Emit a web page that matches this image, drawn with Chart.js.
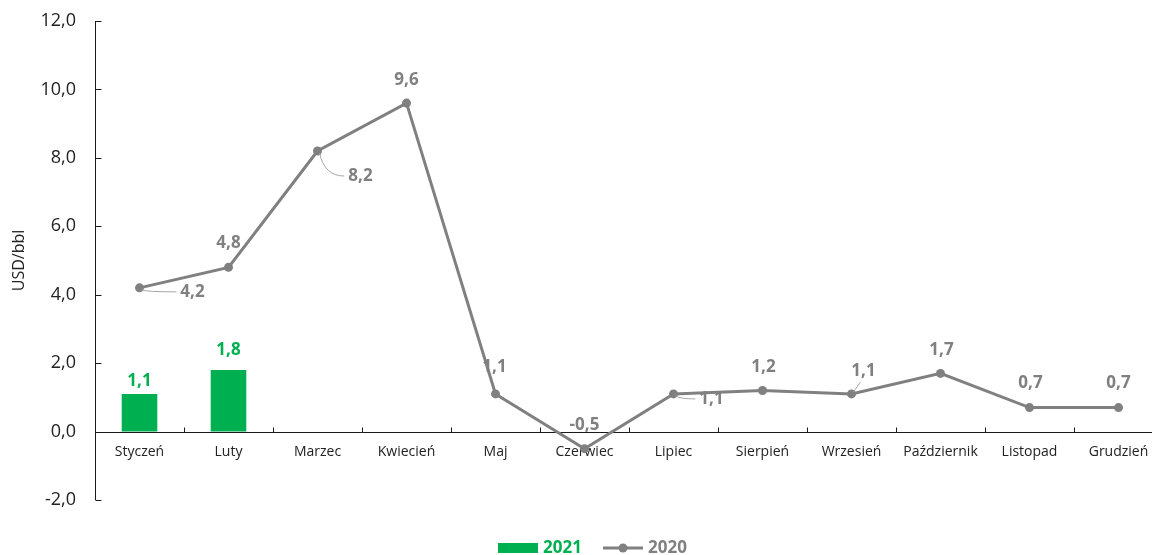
<!DOCTYPE html>
<html>
<head>
<meta charset="utf-8">
<script src="https://cdn.jsdelivr.net/npm/chart.js@4.4.1/dist/chart.umd.min.js"></script>
<style>
  html, body { margin: 0; padding: 0; background: #fff; overflow: hidden; }
  #wrap { width: 1170px; height: 555px; }
</style>
</head>
<body>
<div id="wrap"><canvas id="spreadChart" width="1170" height="555"></canvas></div>
<script>
// Miesiące i wartości (USD/bbl)
const months = ["Styczeń", "Luty", "Marzec", "Kwiecień", "Maj", "Czerwiec", "Lipiec", "Sierpień", "Wrzesień", "Październik", "Listopad", "Grudzień"];
const values2021 = [1.1, 1.8, null, null, null, null, null, null, null, null, null, null];
const values2020 = [4.2, 4.8, 8.2, 9.6, 1.1, -0.5, 1.1, 1.2, 1.1, 1.7, 0.7, 0.7];
const yMin = -2;
const yMax = 12;
const yStep = 2;

// Położenie etykiet danych względem punktu [dx, dy]
const barLabelOffsets = [[0, -13], [0, -20]];
const lineLabelOffsets = [[53, 4], [0, -24], [43, 25], [0, -23], [-1, -27], [0, -24], [38, 5], [1, -23], [12, -23], [1, -23], [1, -24], [0, -24]];
// Etykiety z linią odniesienia
const leaderRight = [0, 2, 6];
const leaderUp = [8];

const GREEN = "#00b050";
const GREY = "#808080";
const AXIS = "#1a1a1a";
const TEXT = "#222222";

const fmt = v => v.toFixed(1).replace(".", ",");

Chart.defaults.font.family = "'Open Sans', sans-serif";

// Osie rysowane ręcznie: znaczniki skierowane do środka wykresu
const axesPlugin = {
  id: "axesPlugin",
  beforeDatasetsDraw(chart) {
    const { ctx, chartArea, scales } = chart;
    const x = scales.x, y = scales.y;
    const y0 = Math.round(y.getPixelForValue(0)) + 0.5;
    const left = Math.round(chartArea.left) + 0.5;
    ctx.save();
    ctx.strokeStyle = AXIS;
    ctx.lineWidth = 1;
    ctx.beginPath();
    ctx.moveTo(left, chartArea.top);
    ctx.lineTo(left, chartArea.bottom);
    for (let v = yMin; v <= yMax; v += yStep) {
      const py = Math.round(y.getPixelForValue(v)) + 0.5;
      ctx.moveTo(left, py);
      ctx.lineTo(left + 6, py);
    }
    ctx.moveTo(left, y0);
    ctx.lineTo(chartArea.right, y0);
    for (let i = 1; i <= months.length; i++) {
      const px = Math.round(x.getPixelForValue(i - 0.5)) + 0.5;
      ctx.moveTo(px, y0);
      ctx.lineTo(px, y0 - 5);
    }
    ctx.stroke();
    ctx.restore();
  }
};

// Etykiety wartości nad słupkami i punktami
const valueLabels = {
  id: "valueLabels",
  afterDatasetsDraw(chart) {
    const { ctx } = chart;
    ctx.save();
    ctx.font = "bold 17px 'Open Sans', sans-serif";
    ctx.textAlign = "center";
    ctx.textBaseline = "middle";

    const bars = chart.getDatasetMeta(0).data;
    ctx.fillStyle = GREEN;
    values2021.forEach((v, i) => {
      if (v === null) return;
      const el = bars[i];
      const [dx, dy] = barLabelOffsets[i];
      ctx.fillText(fmt(v), el.x + dx, el.y + dy);
    });

    const pts = chart.getDatasetMeta(1).data;
    values2020.forEach((v, i) => {
      const el = pts[i];
      const [dx, dy] = lineLabelOffsets[i];
      const lx = el.x + dx, ly = el.y + dy;
      const w = ctx.measureText(fmt(v)).width;
      ctx.strokeStyle = "#a6a6a6";
      ctx.lineWidth = 1;
      if (leaderRight.includes(i)) {
        ctx.beginPath();
        ctx.moveTo(el.x + 2, el.y + 2);
        ctx.quadraticCurveTo(el.x + 7, ly, lx - w / 2 - 4, ly);
        ctx.stroke();
      } else if (leaderUp.includes(i)) {
        ctx.beginPath();
        ctx.moveTo(el.x + 2, el.y - 2);
        ctx.lineTo(lx - 3, ly + 11);
        ctx.stroke();
      }
      ctx.fillStyle = GREY;
      ctx.fillText(fmt(v), lx, ly);
    });
    ctx.restore();
  }
};

// Legenda pod wykresem
const bottomLegend = {
  id: "bottomLegend",
  afterDraw(chart) {
    const { ctx } = chart;
    const cy = 548;
    ctx.save();
    ctx.font = "bold 17px 'Open Sans', sans-serif";
    ctx.textBaseline = "middle";
    ctx.textAlign = "left";
    ctx.fillStyle = GREEN;
    ctx.fillRect(498, cy - 5, 40, 10);
    ctx.fillText("2021", 543, cy);
    ctx.strokeStyle = GREY;
    ctx.lineWidth = 3;
    ctx.beginPath();
    ctx.moveTo(603, cy);
    ctx.lineTo(643, cy);
    ctx.stroke();
    ctx.fillStyle = GREY;
    ctx.beginPath();
    ctx.arc(623, cy, 4.5, 0, Math.PI * 2);
    ctx.fill();
    ctx.fillText("2020", 648, cy);
    ctx.restore();
  }
};

new Chart(document.getElementById("spreadChart"), {
  data: {
    labels: months,
    datasets: [
      {
        type: "bar",
        label: "2021",
        data: values2021,
        backgroundColor: GREEN,
        categoryPercentage: 1,
        barPercentage: 0.4,
        order: 1
      },
      {
        type: "line",
        label: "2020",
        data: values2020,
        borderColor: GREY,
        backgroundColor: GREY,
        borderWidth: 3,
        pointRadius: 4.5,
        pointBorderWidth: 0,
        pointBackgroundColor: GREY,
        tension: 0,
        order: 0
      }
    ]
  },
  options: {
    responsive: false,
    animation: false,
    layout: { padding: { top: 21, right: 7, bottom: 55, left: 0 } },
    plugins: {
      legend: { display: false },
      tooltip: { enabled: false }
    },
    scales: {
      x: {
        type: "category",
        position: { y: 0 },
        offset: true,
        grid: { display: false, drawTicks: false },
        border: { display: false },
        ticks: {
          autoSkip: false,
          maxRotation: 0,
          padding: 12,
          color: TEXT,
          font: { size: 14 }
        }
      },
      y: {
        min: yMin,
        max: yMax,
        grid: { display: false, drawTicks: false },
        border: { display: false },
        ticks: {
          stepSize: yStep,
          padding: 19,
          color: TEXT,
          font: { size: 18 },
          callback: v => fmt(v)
        },
        title: {
          display: true,
          text: "USD/bbl",
          color: TEXT,
          font: { size: 16 },
          padding: { top: 10, bottom: 0 }
        },
        afterFit: scale => {
          scale.width = 95;
          scale.paddingTop = 0;
          scale.paddingBottom = 0;
        }
      }
    }
  },
  plugins: [axesPlugin, valueLabels, bottomLegend]
});
</script>
</body>
</html>
